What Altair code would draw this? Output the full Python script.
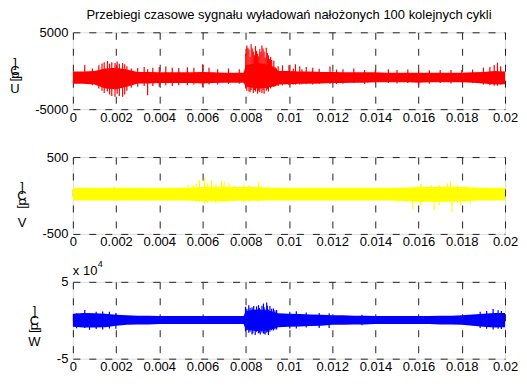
import altair as alt
import pandas as pd

FONT = "Liberation Sans"
TITLE = "Przebiegi czasowe sygnału wyładowań nałożonych 100 kolejnych cykli"
X_TICKS = [0, 0.002, 0.004, 0.006, 0.008, 0.01, 0.012, 0.014, 0.016, 0.018, 0.02]

# sampling grid of the dense signal envelope (ms)
CORE_T_MS = [0, 0.5, 1, 1.5, 2, 2.5, 3, 3.5, 4, 4.5, 5, 5.5, 6, 6.5, 7, 7.5, 7.9, 8, 8.5, 9,
             9.4, 9.5, 10, 10.5, 11, 11.5, 12, 12.5, 13, 13.5, 14, 14.5, 15, 15.5, 16, 16.5, 17,
             17.5, 18, 18.5, 19, 19.5, 20]

# ---- U (red) ----
U_HI = [-100, -100, -50, 300, 400, 150, -150, -150, -200, -200, -200, -200, -150, -200, -250, -250,
        -250, 700, 1000, 800, 400, -50, -50, -100, -100, -150, -150, -200, -200, -200, -200, -250,
        -250, -250, -250, -250, -250, -250, -250, -200, -150, -50, -100]
U_LO = [-1700, -1700, -1800, -2300, -2400, -2100, -1650, -1650, -1600, -1600, -1600, -1600, -1650,
        -1600, -1550, -1550, -1550, -2100, -2300, -2200, -2000, -1800, -1750, -1700, -1700, -1650,
        -1600, -1600, -1550, -1550, -1500, -1500, -1500, -1500, -1550, -1500, -1500, -1500, -1500,
        -1550, -1650, -1800, -1750]
U_SP_T = [0.55, 0.9, 1.2, 1.35, 1.45, 1.6, 1.7, 1.8, 1.95, 2.05, 2.15, 2.3, 2.4, 2.5, 2.7, 3.0,
          3.3, 3.46, 3.7, 4.0, 4.3, 4.6, 4.9, 5.3, 5.6, 6.0, 6.3, 6.7, 7.2, 7.7,
          8.0, 8.05, 8.1, 8.15, 8.2, 8.25, 8.3, 8.35, 8.4, 8.45, 8.5, 8.55, 8.6, 8.65, 8.7, 8.75,
          8.8, 8.85, 8.9, 8.95, 9.0, 9.05, 9.1, 9.15, 9.2, 9.3, 9.5, 9.7, 10.0, 10.2, 10.3, 10.5,
          10.6, 10.8, 11.1, 11.4, 11.9, 12.2, 12.5, 13.0, 13.5, 14.0, 14.6, 15.0, 15.5, 16.0,
          16.5, 17.0, 17.5, 18.0, 18.5, 19.0, 19.3, 19.5, 19.65, 19.8]
U_SP_HI = [760, 300, 700, 930, 1100, 1270, 900, 1100, 1000, 1200, 900, 1000, 850, 600, 300, 350,
           500, 200, 400, 500, 550, 400, 350, 450, 400, 840, 400, 200, 300, 200,
           2200, 3300, 3000, 2800, 1800, 3440, 2900, 2500, 2000, 3200, 2600, 2200, 1900, 2800,
           2400, 3300, 2900, 2500, 1700, 3000, 2300, 2000, 1500, 1800, 1400, 1300, 600, 700, 700,
           300, 840, 600, 200, 500, 400, 250, 540, 150, 200, 300, 100, 150, 200, 100, 150, 100,
           50, 100, 100, 100, 150, 400, 500, 760, 1050, 600]
U_SP_LO = [-1700, -1900, -2300, -2600, -2900, -2700, -3100, -3300, -3400, -3000, -3300, -3400,
           -3100, -2600, -2200, -2100, -2000, -3200, -2000, -2100, -1900, -2000, -1900, -1900,
           -1800, -2100, -1800, -1800, -1700, -1700,
           -2300, -2600, -2000, -2700, -2800, -2500, -2200, -2900, -2500, -2700, -2100, -3000,
           -2600, -2800, -2300, -2900, -2500, -3000, -2200, -2600, -2400, -2700, -2000, -2300,
           -2000, -2100, -2000, -1900, -1900, -1800, -1800, -1800, -1750, -1700, -1800, -1700,
           -1700, -1750, -1700, -1600, -1700, -1600, -1600, -1650, -1600, -1970, -1650, -1600,
           -1650, -1500, -1600, -1800, -1900, -1950, -1950, -1800]

# ---- V (yellow) ----
V_HI = [100, 100, 100, 100, 100, 100, 100, 100, 100, 100, 100, 105, 110, 115, 115, 110, 110, 110,
        110, 105, 100, 100, 100, 100, 100, 100, 100, 100, 100, 100, 100, 100, 100, 105, 110, 110,
        115, 115, 110, 105, 100, 100, 100]
V_LO = [-65, -65, -65, -65, -65, -65, -65, -65, -65, -65, -65, -70, -75, -75, -75, -70, -70, -70,
        -70, -65, -65, -65, -65, -65, -65, -65, -65, -65, -65, -65, -65, -65, -70, -75, -80, -80,
        -80, -80, -75, -70, -65, -65, -65]
V_SP_T = [1.9, 5.33, 5.56, 5.71, 5.86, 6.09, 6.24, 6.42, 6.62, 6.88, 7.0, 7.23, 7.46, 7.91, 8.14,
          8.6, 15.05, 15.73, 16.11, 16.57, 16.72, 16.95, 17.33, 17.48, 17.55, 17.79, 17.94, 18.16,
          18.39]
V_SP_HI = [116, 141, 141, 150, 200, 235, 158, 201, 141, 184, 184, 158, 128, 141, 141, 171, 100,
           100, 150, 141, 100, 141, 158, 184, 100, 141, 100, 128, 100]
V_SP_LO = [-70, -70, -70, -80, -80, -106, -97, -80, -97, -80, -85, -80, -75, -85, -75, -75, -85,
           -183, -128, -80, -192, -128, -80, -80, -213, -80, -128, -80, -110]

# ---- W (blue), units of 1e4 ----
W_HI = [0.85, 0.95, 0.9, 0.85, 0.7, 0.65, 0.6, 0.6, 0.55, 0.55, 0.55, 0.55, 0.55, 0.55, 0.55,
        0.55, 0.55, 1.2, 1.4, 1.3, 1.0, 0.9, 0.85, 0.8, 0.75, 0.7, 0.65, 0.65, 0.6, 0.6, 0.55,
        0.55, 0.55, 0.55, 0.55, 0.55, 0.6, 0.6, 0.65, 0.75, 0.85, 0.95, 0.95]
W_LO = [-0.85, -0.95, -0.95, -0.9, -0.7, -0.6, -0.55, -0.55, -0.5, -0.5, -0.5, -0.5, -0.5, -0.5,
        -0.5, -0.5, -0.5, -1.2, -1.4, -1.35, -1.0, -0.9, -0.85, -0.8, -0.75, -0.7, -0.6, -0.6,
        -0.55, -0.55, -0.5, -0.5, -0.5, -0.5, -0.5, -0.5, -0.55, -0.55, -0.6, -0.7, -0.85, -0.95,
        -0.9]
W_SP_T = [0.17, 0.55, 0.77, 1.08, 1.38, 1.69, 1.99, 7.99, 8.05, 8.14, 8.2, 8.29, 8.33, 8.37,
          8.44, 8.5, 8.59, 8.63, 8.67, 8.75, 8.82, 8.85, 8.9, 8.97, 9.0, 9.05, 9.12, 9.2, 9.28,
          9.35, 9.43, 10.04, 10.34, 10.8, 11.4, 11.86, 13.38, 18.85, 19.15, 19.45, 19.68, 19.83]
W_SP_HI = [0.9, 1.32, 0.9, 1.1, 1.15, 1.1, 0.95, 1.75, 1.5, 1.96, 1.6, 1.7, 1.5, 1.87, 1.3, 1.8,
           1.96, 1.6, 1.4, 1.9, 2.17, 1.7, 1.4, 2.3, 1.9, 1.4, 1.87, 1.5, 1.53, 1.3, 1.32, 1.1,
           1.18, 1.0, 0.95, 0.9, 0.7, 1.1, 1.2, 1.45, 1.3, 1.2]
W_SP_LO = [-1.05, -1.0, -1.25, -1.15, -1.2, -1.07, -1.1, -1.45, -1.3, -1.62, -1.5, -1.84, -1.7,
           -1.3, -1.92, -1.5, -1.7, -1.6, -1.84, -1.6, -1.7, -1.75, -1.84, -1.6, -1.5, -1.92,
           -1.5, -1.3, -1.35, -1.2, -1.2, -1.07, -1.07, -0.95, -1.0, -1.0, -0.65, -1.0, -1.1,
           -1.2, -1.1, -1.15]

# y-axis label glyphs (as MATLAB rendered them: some glyphs rotated)
U_LABEL = ["]", "C", "p", "[", "U"]
V_LABEL = ["]", "C", "p", "[", "V"]
W_LABEL = ["]", "C", "p", "[", "W"]

W_PX = 433
H_PX = 77


def text_mark(txt, x, y, size=13, angle=0, align="center", baseline="middle"):
    return alt.Chart(pd.DataFrame({"label": [txt]})).mark_text(
        font=FONT, fontSize=size, align=align, baseline=baseline, color="black", angle=angle
    ).encode(x=alt.value(x), y=alt.value(y), text="label:N")


def ylabel(chars, x, ys):
    angles = [0, 0, 270, 270, 0]
    return [text_mark(c, x, y, angle=a) for c, y, a in zip(chars, ys, angles)]


def panel(hi, lo, sp_t, sp_hi, sp_lo, color, dom, yticks):
    core = pd.DataFrame({"t": [v / 1000 for v in CORE_T_MS], "hi": hi, "lo": lo})
    spikes = pd.DataFrame({"t": [v / 1000 for v in sp_t], "hi": sp_hi, "lo": sp_lo})
    xs = alt.Scale(domain=[0, 0.02], nice=False, zero=False)
    ys = alt.Scale(domain=dom, nice=False, zero=False)
    common = dict(grid=True, gridDash=[7, 9], gridColor="#222", gridWidth=1, ticks=False,
                  domain=False, labelOverlap=False, labelFlush=False, labelFont=FONT,
                  labelFontSize=13, labelColor="black", labelExpr="'' + datum.value", title=None)
    xaxis = alt.Axis(values=X_TICKS, labelPadding=2, **common)
    yaxis = alt.Axis(values=yticks, labelPadding=5, **common)
    area = alt.Chart(core).mark_area(color=color, opacity=1).encode(
        x=alt.X("t:Q", scale=xs, axis=xaxis),
        y=alt.Y("hi:Q", scale=ys, axis=yaxis),
        y2="lo:Q",
    )
    rules = alt.Chart(spikes).mark_rule(color=color, strokeWidth=1.2).encode(
        x=alt.X("t:Q", scale=xs),
        y=alt.Y("hi:Q", scale=ys),
        y2="lo:Q",
    )
    return [area, rules]


top = alt.layer(
    *panel(U_HI, U_LO, U_SP_T, U_SP_HI, U_SP_LO, "#ff0000", [-5000, 5000], [-5000, 0, 5000]),
    *ylabel(U_LABEL, -58, [30.5, 38.5, 43, 47.5, 57]),
    text_mark(TITLE, W_PX / 2, -13, baseline="alphabetic"),
).properties(width=W_PX, height=H_PX)

mid = alt.layer(
    *panel(V_HI, V_LO, V_SP_T, V_SP_HI, V_SP_LO, "#ffff00", [-500, 500], [-500, 0, 500]),
    *ylabel(V_LABEL, -51, [30, 39, 45, 50, 66]),
).properties(width=W_PX, height=H_PX)

bot = alt.layer(
    *panel(W_HI, W_LO, W_SP_T, W_SP_HI, W_SP_LO, "#0000ff", [-5, 5], [-5, 0, 5]),
    *ylabel(W_LABEL, -38.5, [29, 39, 45, 49.5, 60]),
    text_mark("x 10", 0, -6.5, align="left", baseline="alphabetic"),
    text_mark("4", 25, -15, size=9, align="left", baseline="alphabetic"),
).properties(width=W_PX, height=H_PX)

chart = alt.vconcat(top, mid, bot, spacing=48, bounds="flush").properties(
    padding={"left": 0, "top": 0, "right": 0, "bottom": 0}
).configure_view(stroke="black", strokeWidth=1.2).configure(background="white")

chart.save("out.html", embed_options={"renderer": "svg", "actions": False})
